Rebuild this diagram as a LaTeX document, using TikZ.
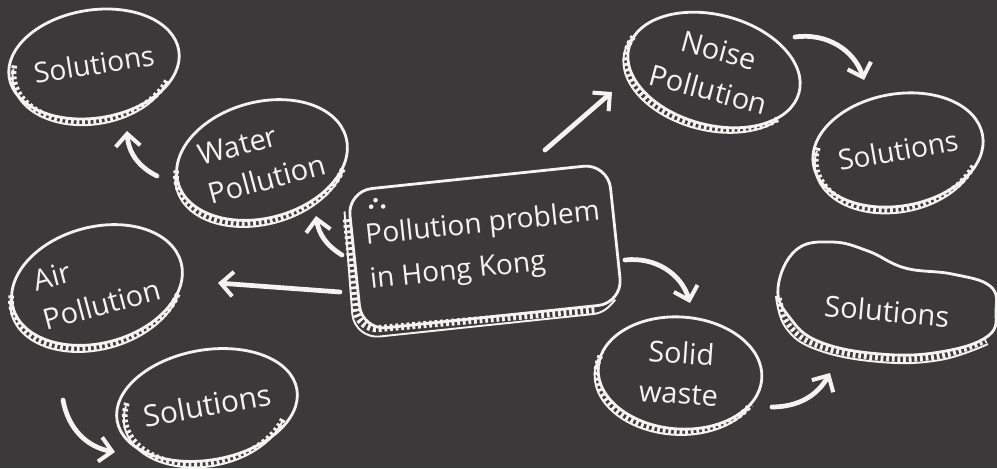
\documentclass[tikz,border=0pt]{standalone}
\usepackage{fontspec}
\setmainfont{Open Sans}
\usetikzlibrary{arrows.meta, calc, shapes.geometric}
\definecolor{board}{RGB}{60,57,58}
\definecolor{chalk}{RGB}{243,243,241}
\newlength{\pxu}\setlength{\pxu}{0.02cm}
\tikzset{
  >=Stealth,
  coinface/.style={ellipse, draw=chalk, line width=1.6pt, inner sep=0pt,
                   text=chalk, align=center, font=\fontsize{16.5}{23}\selectfont},
  hubbox/.style={rectangle, rounded corners=14pt, draw=chalk, line width=1.6pt,
                 text=chalk, align=left, font=\fontsize{16}{25}\selectfont,
                 minimum width={262*\pxu}, minimum height={140*\pxu}},
  blobline/.style={chalk, line width=1.6pt},
  rimline/.style={chalk, line width=1.1pt},
  rimladder/.style={chalk, line width=3.2pt, dash pattern=on 1.6pt off 1.6pt},
  chalkarrow/.style={-{Straight Barb[length=7pt, width=14pt, line width=2.3pt]},
                     chalk, line width=2.7pt, line cap=round},
}
% rim of a coin: rx, ry, start, end (inside a shifted, rotated scope)
\newcommand{\coinrim}[4]{%
  \draw[rimline] (-3,-6) ++(#3:#1 and #2)
    arc[start angle=#3, end angle=#4, x radius=#1, y radius=#2];
  \draw[rimladder] (-1.5,-3) ++(#3:#1 and #2)
    arc[start angle=#3, end angle=#4, x radius=#1, y radius=#2];
}

\begin{document}
\begin{tikzpicture}[x=0.02cm, y=0.02cm]
  \fill[board] (0,0) rectangle (997,468);
  \useasboundingbox (0,0) rectangle (997,468);

  % ---- Hub ----
  \node[hubbox, rotate=6] (hub) at (485,221)
    {Pollution problem\\in Hong Kong};
  \begin{scope}[shift={(485,221)}, rotate=6]
    \draw[rimline] (-136,50) -- (-139,-53)
      arc[start angle=180, end angle=270, radius=25] -- (100,-78)
      to[out=0, in=225] (124,-66);
    \draw[rimladder, line width=4pt] (-135,42) -- (-135,-49)
      arc[start angle=180, end angle=270, radius=21] -- (104,-74);
    \fill[chalk] (-104,58) circle (2.3) (-109,52) circle (2.3)
      (-97,51) circle (2.3);
  \end{scope}

  % ---- Left side ----
  \node[coinface, font=\fontsize{16}{20}\selectfont,
        minimum width={160*\pxu}, minimum height={108*\pxu},
        rotate=9] (sol1) at (94,404) {Solutions};
  \begin{scope}[shift={(94,404)}, rotate=9]
    \coinrim{80}{54}{165}{335}
  \end{scope}

  \node[coinface, align=left, minimum width={174*\pxu},
        minimum height={116*\pxu}, rotate=15] (water) at (262,308)
    {Water\\Pollution};
  \begin{scope}[shift={(262,308)}, rotate=15]
    \coinrim{87}{58}{165}{335}
  \end{scope}

  \node[coinface, align=left, minimum width={174*\pxu},
        minimum height={116*\pxu}, rotate=15] (air) at (97,183)
    {Air\\Pollution};
  \begin{scope}[shift={(97,183)}, rotate=15]
    \coinrim{87}{58}{165}{335}
  \end{scope}

  \node[coinface, font=\fontsize{17}{20}\selectfont,
        minimum width={164*\pxu}, minimum height={110*\pxu},
        rotate=10] (sol4) at (207,63) {Solutions};
  \begin{scope}[shift={(207,63)}, rotate=10]
    \coinrim{82}{55}{160}{335}
  \end{scope}

  % ---- Right side ----
  \node[coinface, minimum width={176*\pxu}, minimum height={110*\pxu},
        rotate=-15] (noise) at (714,398) {Noise\\Pollution};
  \begin{scope}[shift={(714,398)}, rotate=-15]
    \coinrim{88}{55}{165}{330}
  \end{scope}

  \node[coinface, font=\fontsize{16}{20}\selectfont,
        minimum width={164*\pxu}, minimum height={112*\pxu},
        rotate=10] (sol2) at (898,318) {Solutions};
  \begin{scope}[shift={(898,318)}, rotate=10]
    \coinrim{82}{56}{160}{335}
  \end{scope}

  \node[coinface, minimum width={164*\pxu}, minimum height={112*\pxu},
        rotate=-4] (solid) at (680,95) {Solid\\waste};
  \begin{scope}[shift={(680,95)}, rotate=-4]
    \coinrim{82}{56}{165}{335}
  \end{scope}

  \draw[blobline] plot[smooth cycle, tension=0.7] coordinates
    {(778,180) (796,218) (832,226) (868,217) (905,200) (952,194)
     (990,182) (996,158) (988,132) (940,116) (880,114) (820,126) (790,150)};
  \draw[rimline] plot[smooth, tension=0.7] coordinates
    {(776,172) (786,140) (818,118) (880,106) (940,108) (988,124)};
  \draw[rimladder] plot[smooth, tension=0.7] coordinates
    {(779,170) (789,143) (819,122) (880,110) (940,112) (986,128)};
  \node[text=chalk, font=\fontsize{16.5}{20}\selectfont, rotate=-5]
    (sol3) at (887,157) {Solutions};

  % ---- Arrow ends ----
  \coordinate (water-out) at (157,292);  \coordinate (sol1-in)  at (127,337);
  \coordinate (hub-w)     at (342,213);  \coordinate (water-in) at (316,252);
  \coordinate (hub-a)     at (340,176);  \coordinate (air-in)   at (218,185);
  \coordinate (air-out)   at (63,68);    \coordinate (sol4-in)  at (115,16);
  \coordinate (hub-n)     at (545,318);  \coordinate (noise-in) at (612,376);
  \coordinate (noise-out) at (795,431);  \coordinate (sol2-in)  at (864,388);
  \coordinate (hub-s)     at (625,208);  \coordinate (solid-in) at (690,165);
  \coordinate (solid-out) at (772,61);   \coordinate (sol3-in)  at (830,95);

  % ---- Arrows ----
  \draw[chalkarrow] (water-out) to[bend left=30] (sol1-in);
  \draw[chalkarrow] (hub-w) to[bend left=25] (water-in);
  \draw[chalkarrow] (hub-a) -- (air-in);
  \draw[chalkarrow] (air-out) to[bend right=35] (sol4-in);
  \draw[chalkarrow] (hub-n) -- (noise-in);
  \draw[chalkarrow] (noise-out) to[bend left=40] (sol2-in);
  \draw[chalkarrow] (hub-s) to[bend left=40] (solid-in);
  \draw[chalkarrow] (solid-out) to[bend right=30] (sol3-in);

\end{tikzpicture}
\end{document}
